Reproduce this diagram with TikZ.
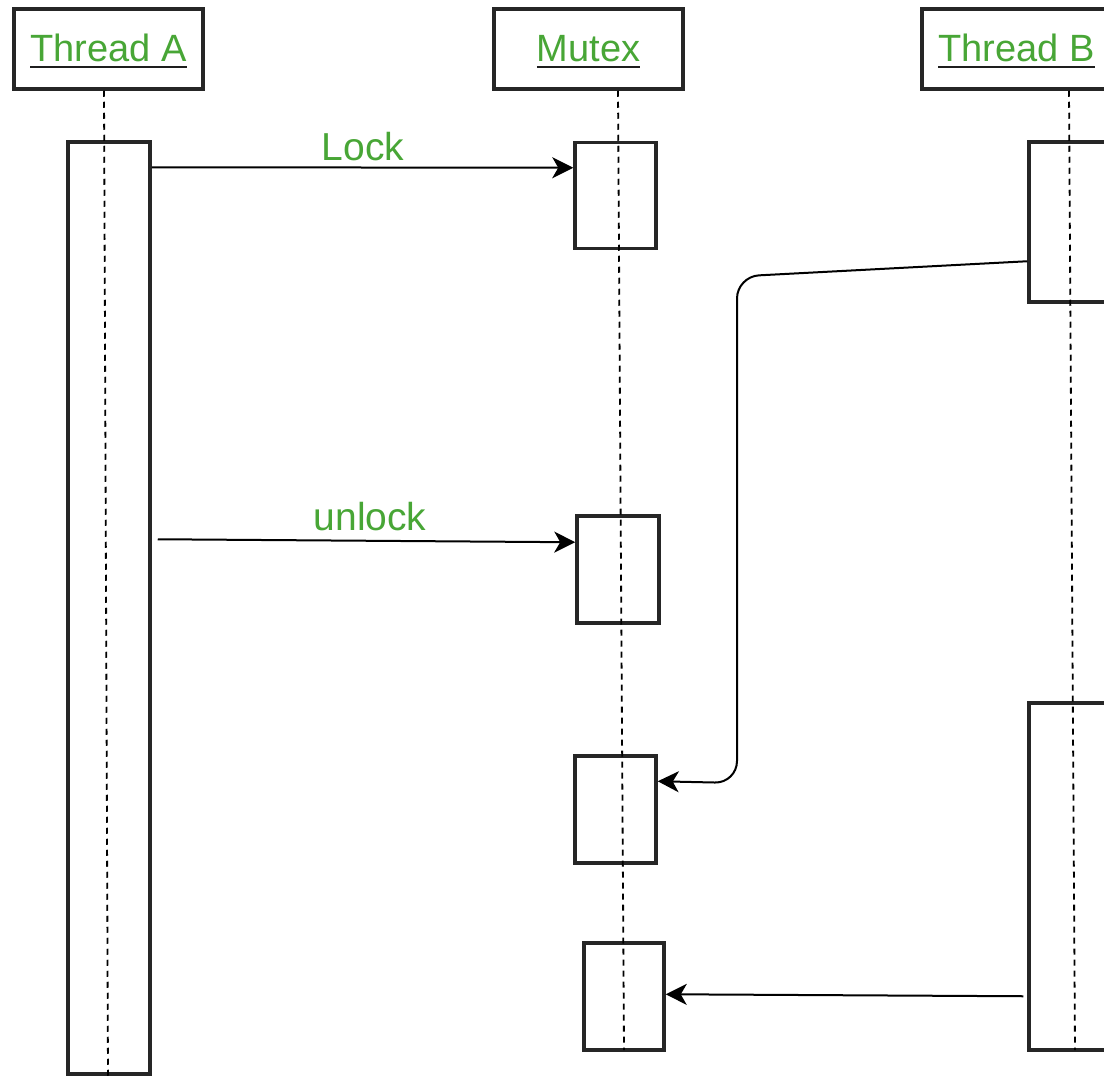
\documentclass[tikz,border=0pt]{standalone}
\usepackage{fontspec}
\setmainfont{Liberation Sans}
\usetikzlibrary{arrows.meta,calc}
\definecolor{lblgreen}{RGB}{72,166,54}
\definecolor{ulcol}{RGB}{30,30,30}
\newcommand\ulgreen[1]{\setbox0\hbox{\textcolor{lblgreen}{#1}}\rlap{\box0}\setbox0\hbox{#1}\textcolor{ulcol}{\rule[-7pt]{\wd0}{2.5pt}}}
\tikzset{
  hdrbox/.style={draw=black!85, line width=3.5pt, fill=white, minimum width=189pt, minimum height=80pt, inner sep=0pt,
    font=\fontsize{38}{40}\selectfont, text height=28pt, text depth=4pt},
  actbox/.style={draw=black!85, line width=3.5pt, fill=white, inner sep=0pt},
  lifeline/.style={draw=black, line width=1.8pt, dash pattern=on 6pt off 5pt},
  arr/.style={draw=black, line width=2pt, -{Stealth[length=21pt,width=21pt,inset=6pt]}},
  msglbl/.style={font=\fontsize{39}{41}\selectfont, text=lblgreen, anchor=base, inner sep=0pt}
}
\begin{document}
\begin{tikzpicture}[x=1pt,y=-1pt]
\clip (0,0) rectangle (1104,1076);
\fill[white] (0,0) rectangle (1104,1076);
% header boxes
\node[hdrbox] (hA) at (108.5,49) {\ulgreen{Thread A}};
\node[hdrbox] (hM) at (588.5,49) {\ulgreen{Mutex}};
\node[hdrbox] (hB) at (1016.5,49) {\ulgreen{Thread B}};
% activation boxes
\node[actbox, minimum width=82pt, minimum height=932pt] (aA) at (109,608) {};
\node[actbox, minimum width=81pt, minimum height=106pt] (m1) at (615.5,195.5) {};
\node[actbox, minimum width=82pt, minimum height=107pt] (m2) at (618,569.5) {};
\node[actbox, minimum width=81pt, minimum height=107pt] (m3) at (615.5,809.5) {};
\node[actbox, minimum width=80pt, minimum height=107pt] (m4) at (624,996.5) {};
\node[actbox, minimum width=90pt, minimum height=160pt] (b1) at (1074,222) {};
\node[actbox, minimum width=90pt, minimum height=347pt] (b2) at (1074,876.5) {};
% lifelines
\coordinate (eA) at (108,1076);
\coordinate (eM) at (624,1050);
\coordinate (eB) at (1075,1050);
\draw[lifeline] ([xshift=-4.5pt]hA.south) -- (eA);
\draw[lifeline] ([xshift=29.5pt]hM.south) -- (eM);
\draw[lifeline] ([xshift=52.5pt]hB.south) -- (eB);
% messages
\draw[arr] ([yshift=-27pt]aA.north east) -- ([yshift=-27pt]m1.north west);
\node[msglbl] (lLock) at (363,160) {Lock};
\draw[arr] ([xshift=6pt,yshift=-399pt]aA.north east) -- ([yshift=-28pt]m2.north west);
\node[msglbl] (lUnlock) at (370,530) {unlock};
\draw[arr, rounded corners=22pt] ([yshift=-121pt]b1.north west) -- (737,276.5) -- (737,783) -- ([yshift=-27pt]m3.north east);
\draw[arr] ([xshift=-4pt,yshift=-295pt]b2.north west) -- ([yshift=-53pt]m4.north east);
\end{tikzpicture}
\end{document}
